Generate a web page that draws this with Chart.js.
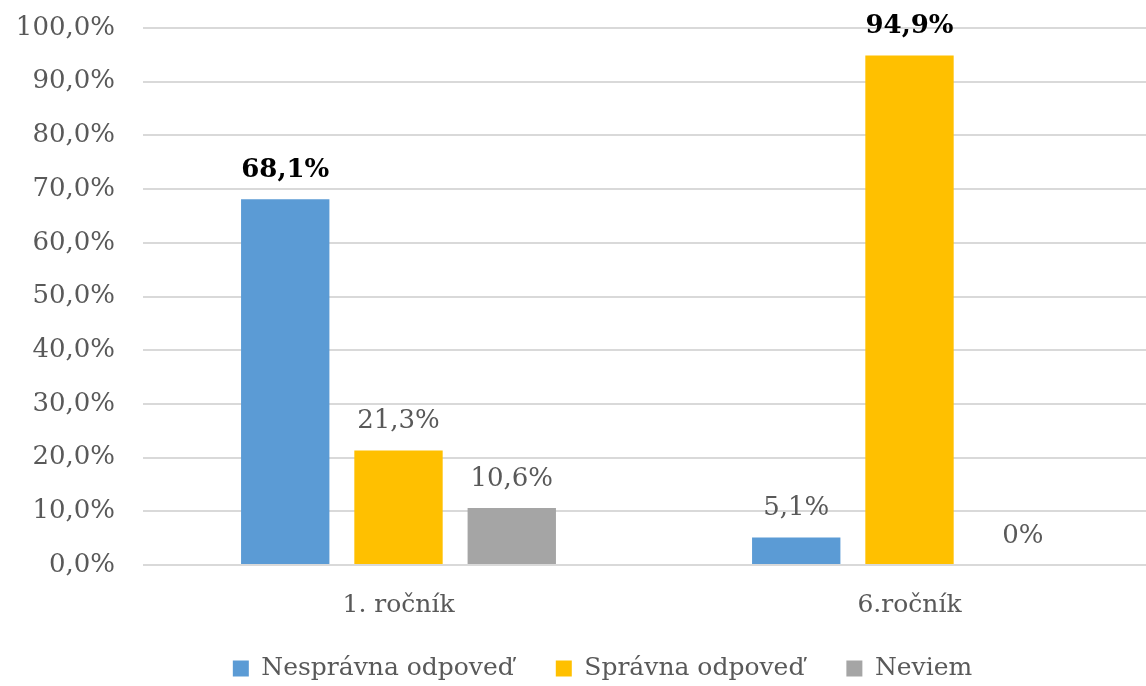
<!DOCTYPE html>
<html>
<head>
<meta charset="utf-8">
<script src="https://cdn.jsdelivr.net/npm/chart.js@4/dist/chart.umd.min.js"></script>
<style>
  html, body { margin: 0; padding: 0; background: #ffffff; overflow: hidden; }
  #wrap { position: relative; width: 1170px; height: 686px; }
</style>
</head>
<body>
<div id="wrap"><canvas id="c"></canvas></div>
<script>
const categories = ['1. ročník', '6.ročník'];
const seriesNames = ['Nesprávna odpoveď', 'Správna odpoveď', 'Neviem'];
const nespravna = [68.1, 5.1];
const spravna = [21.3, 94.9];
const neviem = [10.6, 0];
const nespravnaLabels = ['68,1%', '5,1%'];
const spravnaLabels = ['21,3%', '94,9%'];
const neviemLabels = ['10,6%', '0%'];
const nespravnaBold = [true, false];
const spravnaBold = [false, true];
const neviemBold = [false, false];
const yTickValues = [0, 10, 20, 30, 40, 50, 60, 70, 80, 90, 100];

const FONT = "'DejaVu Serif', serif";
const GREY = '#595959';

const valueLabelPlugin = {
  id: 'valueLabels',
  afterDatasetsDraw(chart) {
    const ctx = chart.ctx;
    chart.data.datasets.forEach((ds, di) => {
      const meta = chart.getDatasetMeta(di);
      meta.data.forEach((el, i) => {
        const bold = ds.labelBold[i];
        ctx.save();
        ctx.font = (bold ? 'bold ' : '') + '26px ' + FONT;
        ctx.fillStyle = bold ? '#000000' : GREY;
        ctx.textAlign = 'center';
        ctx.textBaseline = 'bottom';
        ctx.fillText(ds.valueLabels[i], el.x, el.y - 16);
        ctx.restore();
      });
    });
  }
};

const legendShiftPlugin = {
  id: 'legendShift',
  afterLayout(chart) {
    if (chart.legend) {
      chart.legend.left += 20;
      chart.legend.right += 20;
    }
  }
};

new Chart(document.getElementById('c'), {
  type: 'bar',
  data: {
    labels: categories,
    datasets: [
      { label: seriesNames[0], data: nespravna, backgroundColor: '#5b9bd5', valueLabels: nespravnaLabels, labelBold: nespravnaBold },
      { label: seriesNames[1], data: spravna, backgroundColor: '#ffc000', valueLabels: spravnaLabels, labelBold: spravnaBold },
      { label: seriesNames[2], data: neviem, backgroundColor: '#a5a5a5', valueLabels: neviemLabels, labelBold: neviemBold }
    ]
  },
  options: {
    responsive: true,
    maintainAspectRatio: false,
    animation: false,
    barPercentage: 0.78,
    categoryPercentage: 0.665,
    layout: { padding: { top: 28, right: 5, bottom: -5, left: 0 } },
    plugins: {
      tooltip: { enabled: false },
      legend: {
        position: 'bottom',
        labels: {
          font: { family: FONT, size: 25 },
          color: GREY,
          boxWidth: 16,
          boxHeight: 16,
          padding: 42,
          useBorderRadius: false
        }
      }
    },
    scales: {
      x: {
        grid: { display: false },
        border: { display: false },
        afterFit(s) {
          s.height = s.height - 23;
          s._computeLabelArea = () => undefined;
        },
        ticks: { font: { family: FONT, size: 25 }, color: GREY, padding: 17 }
      },
      y: {
        min: 0,
        max: 100,
        afterFit(s) {
          s.width = 143;
          s.paddingTop = 0;
          s.paddingBottom = 0;
        },
        afterBuildTicks(s) { s.ticks = yTickValues.map(v => ({ value: v })); },
        grid: { color: '#d9d9d9', lineWidth: 2, drawTicks: false },
        border: { display: false },
        ticks: {
          font: { family: FONT, size: 26 },
          color: GREY,
          padding: 28,
          callback: v => v.toFixed(1).replace('.', ',') + '%'
        }
      }
    }
  },
  plugins: [valueLabelPlugin, legendShiftPlugin]
});
</script>
</body>
</html>
